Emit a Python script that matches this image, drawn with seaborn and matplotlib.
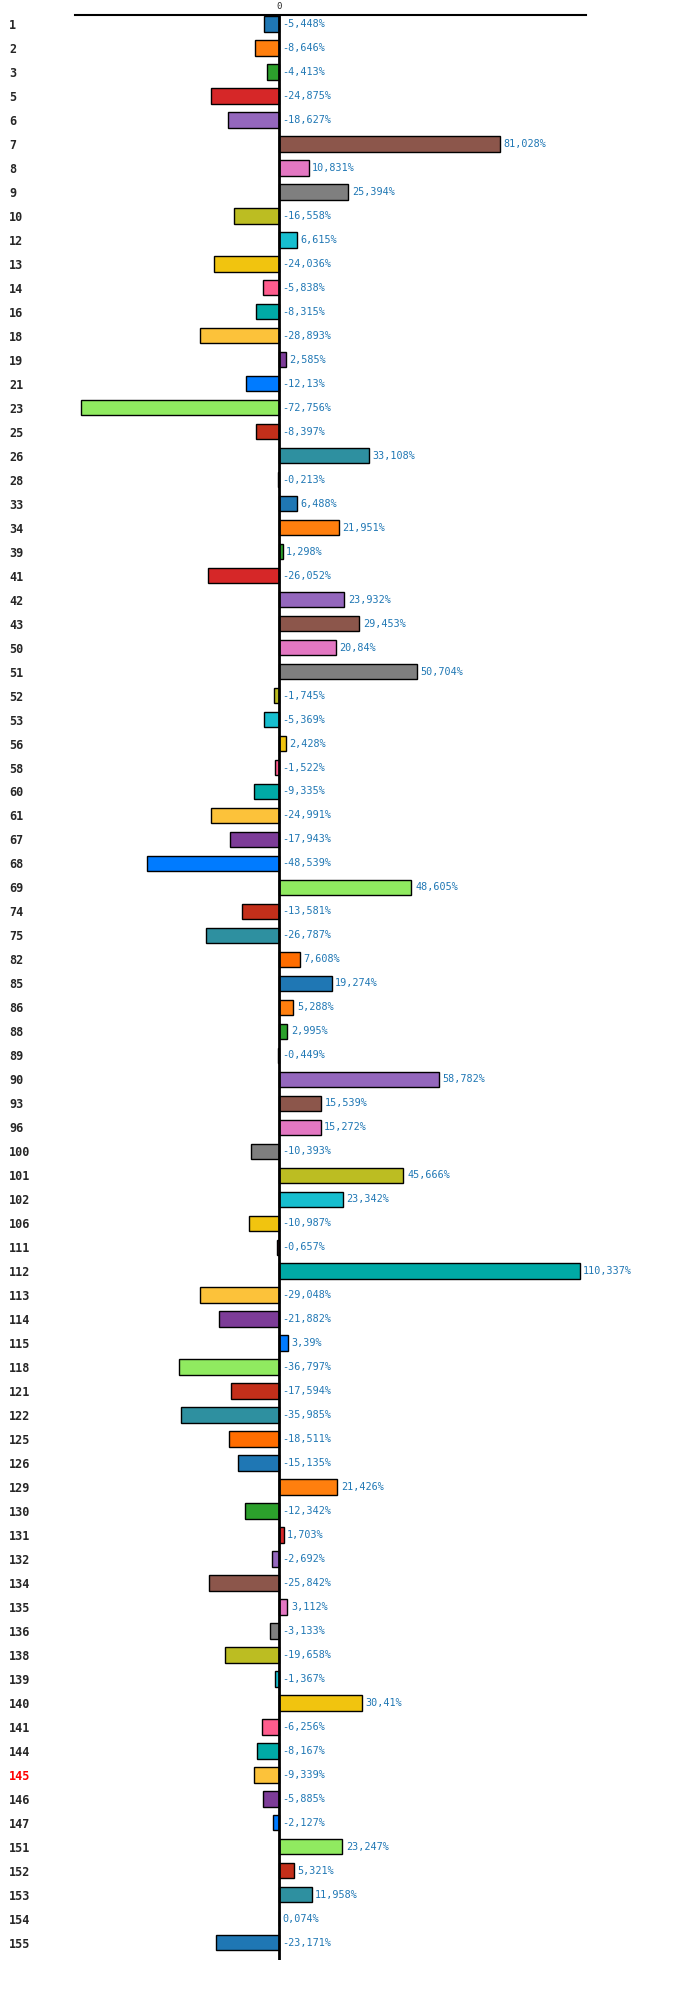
import matplotlib
matplotlib.use("Agg")
import matplotlib.pyplot as plt
import seaborn as sns
import pandas as pd

# row labels (top to bottom) and their values in %
labels = ['1', '2', '3', '5', '6', '7', '8', '9', '10', '12', '13', '14', '16', '18', '19',
          '21', '23', '25', '26', '28', '33', '34', '39', '41', '42', '43', '50', '51', '52',
          '53', '56', '58', '60', '61', '67', '68', '69', '74', '75', '82', '85', '86', '88',
          '89', '90', '93', '96', '100', '101', '102', '106', '111', '112', '113', '114', '115',
          '118', '121', '122', '125', '126', '129', '130', '131', '132', '134', '135', '136',
          '138', '139', '140', '141', '144', '145', '146', '147', '151', '152', '153', '154', '155']
values = [-5.448, -8.646, -4.413, -24.875, -18.627, 81.028, 10.831, 25.394, -16.558, 6.615,
          -24.036, -5.838, -8.315, -28.893, 2.585, -12.13, -72.756, -8.397, 33.108, -0.213,
          6.488, 21.951, 1.298, -26.052, 23.932, 29.453, 20.84, 50.704, -1.745, -5.369,
          2.428, -1.522, -9.335, -24.991, -17.943, -48.539, 48.605, -13.581, -26.787, 7.608,
          19.274, 5.288, 2.995, -0.449, 58.782, 15.539, 15.272, -10.393, 45.666, 23.342,
          -10.987, -0.657, 110.337, -29.048, -21.882, 3.39, -36.797, -17.594, -35.985, -18.511,
          -15.135, 21.426, -12.342, 1.703, -2.692, -25.842, 3.112, -3.133, -19.658, -1.367,
          30.41, -6.256, -8.167, -9.339, -5.885, -2.127, 23.247, 5.321, 11.958, 0.074, -23.171]
highlight = '145'

palette20 = ['#1f77b4', '#ff7f0e', '#2ca02c', '#d62728', '#9467bd', '#8c564b', '#e377c2',
             '#7f7f7f', '#bcbd22', '#17becf', '#f1c40f', '#ff5c8d', '#00aaa6', '#fcc23a',
             '#7d3c98', '#007bff', '#90ea60', '#c32f1a', '#2e90a0', '#ff6d00']
colors = [palette20[i % len(palette20)] for i in range(len(labels))]

df = pd.DataFrame({'label': labels, 'value': values})

sns.set_style("white")
plt.rcParams['font.family'] = ['DejaVu Sans Mono']

W, H = 700, 1989
fig = plt.figure(figsize=(W / 100, H / 100), dpi=100)
ax = fig.add_axes([75 / W, (H - 1960) / H, (586 - 75) / W, (1960 - 15) / H])

sns.barplot(data=df, x='value', y='label', hue='label', palette=colors, order=labels,
            orient='h', width=0.64, saturation=1, edgecolor='black', linewidth=1,
            legend=False, ax=ax)

ax.axvline(0, color='black', lw=2, zorder=5)
ax.set_xlim(-74.9, 112.7)
ax.set_ylim(80.72, -0.375)

for sp in ['left', 'right', 'bottom']:
    ax.spines[sp].set_visible(False)
ax.spines['top'].set_color('black')
ax.spines['top'].set_linewidth(1.5)

ax.xaxis.tick_top()
ax.set_xticks([0])
ax.set_xticklabels(['0'], fontsize=6.5)
ax.tick_params(axis='x', length=0, pad=3)
ax.set_xlabel('')
ax.set_ylabel('')

ax.tick_params(axis='y', length=0, pad=47.5)
ax.set_yticks(range(len(labels)))
ax.set_yticklabels(labels, fontsize=8.5, fontweight='bold', ha='left')
for t in ax.get_yticklabels():
    if t.get_text() == highlight:
        t.set_color('red')

for i, v in enumerate(values):
    txt = ('%g' % v).replace('.', ',') + '%'
    ax.annotate(txt, xy=(max(v, 0), i), xytext=(2.6, 0), textcoords='offset points',
                ha='left', va='center', fontsize=7.3, color='#1f77b4')

fig.savefig('out.png', dpi=100)
